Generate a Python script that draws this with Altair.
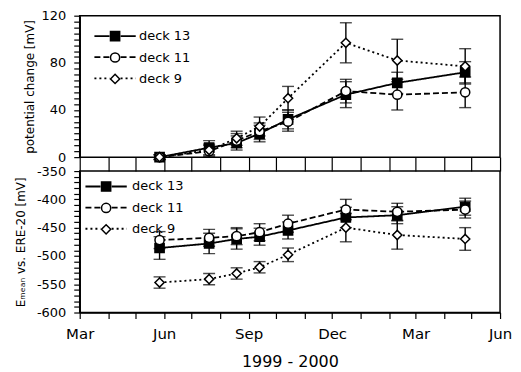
import altair as alt
import pandas as pd

# sampling dates
dates = ["1999-05-27T00:00", "1999-07-20T00:00", "1999-08-19T00:00", "1999-09-13T00:00",
         "1999-10-14T00:00", "1999-12-16T00:00", "2000-02-10T00:00", "2000-04-24T00:00"]
series_names = ["deck 13", "deck 11", "deck 9"]

# top panel: potential change [mV]
top_d13 = [0, 8, 12, 20, 32, 53, 63, 72]
top_d11 = [0, 5, 14, 22, 30, 56, 53, 55]
top_d9 = [0, 6, 16, 26, 50, 97, 82, 77]
top_e13 = [2, 6, 6, 7, 8, 11, 9, 9]
top_e11 = [2, 5, 6, 7, 8, 10, 13, 13]
top_e9 = [2, 5, 6, 8, 10, 17, 18, 15]

# bottom panel: E_mean vs. ERE-20 [mV]
bot_d13 = [-486, -478, -470, -466, -455, -432, -428, -413]
bot_d11 = [-472, -468, -465, -458, -443, -418, -422, -418]
bot_d9 = [-547, -541, -531, -520, -498, -450, -463, -470]
bot_e13 = [20, 18, 18, 15, 15, 18, 15, 15]
bot_e11 = [15, 15, 15, 15, 15, 18, 15, 15]
bot_e9 = [10, 10, 10, 10, 12, 25, 25, 20]


def make_df(vals, errs):
    rows = []
    for k, (name, v, e) in enumerate(zip(series_names, vals, errs)):
        for d, y, s in zip(dates, v, e):
            rows.append({"date": d, "series": name, "deck": name, "order": k,
                         "value": y, "lo": y - s, "hi": y + s})
    return pd.DataFrame(rows)


top_df = make_df([top_d13, top_d11, top_d9], [top_e13, top_e11, top_e9])
bot_df = make_df([bot_d13, bot_d11, bot_d9], [bot_e13, bot_e11, bot_e9])

months = [alt.DateTime(year=1999 + (2 + i) // 12, month=(2 + i) % 12 + 1, date=1) for i in range(16)]
xscale = alt.Scale(domain=[months[0], months[-1]])

top_xaxis = alt.Axis(values=months, labels=False, tickSize=14, domain=False, title=None,
                     grid=False, tickWidth=1.2)
bot_xaxis = alt.Axis(values=months, tickSize=6, title="1999 - 2000", grid=False,
                     labelExpr="(month(datum.value) % 3 == 2) ? timeFormat(datum.value, '%b') : ''",
                     labelOverlap=False, labelFlush=False, labelFontSize=15, labelPadding=8,
                     titleFontSize=16, titleFontWeight="normal", titlePadding=12, tickWidth=1.2)


def panel(df, ydomain, yvals, lab_expr, ytitle, tpad, xaxis, lx, ly, loff):
    yscale = alt.Scale(domain=ydomain, nice=False, zero=False)
    yaxis = alt.Axis(values=yvals, labelExpr=lab_expr, title=ytitle, titleFontSize=12,
                     titleFontWeight="normal", titlePadding=tpad, labelFontSize=13,
                     tickSize=6, labelPadding=8, grid=False, tickWidth=1.2)
    base = alt.Chart(df).encode(x=alt.X("date:T", scale=xscale, axis=xaxis))
    pleg = alt.Legend(orient="none", legendX=lx, legendY=ly, title=None, symbolSize=85,
                      symbolStrokeWidth=1.5, labelFontSize=13,
                      labelOffset=loff, rowPadding=4.5, padding=0)
    lleg = alt.Legend(orient="none", legendX=lx, legendY=ly, title=None,
                      symbolType="M-4.5,0H-1.2M1.2,0H4.5", symbolSize=85,
                      symbolStrokeWidth=1.8, symbolStrokeColor="black", labelFontSize=13,
                      labelExpr="''", labelOffset=loff, rowPadding=7.2, padding=0)
    lines = base.mark_line(color="black", strokeWidth=1.8).encode(
        y=alt.Y("value:Q", scale=yscale, axis=yaxis),
        strokeDash=alt.StrokeDash("series:N", sort=alt.EncodingSortField("order", op="min"),
                                  scale=alt.Scale(range=[[1, 0], [6, 3], [2, 3]]), legend=lleg),
    )
    rules = base.mark_rule(color="black", strokeWidth=1.4).encode(
        y=alt.Y("lo:Q", scale=yscale, axis=yaxis), y2="hi:Q")
    cap_lo = base.mark_tick(color="black", orient="horizontal", size=12, thickness=1.4).encode(
        y=alt.Y("lo:Q", scale=yscale, axis=yaxis))
    cap_hi = base.mark_tick(color="black", orient="horizontal", size=12, thickness=1.4).encode(
        y=alt.Y("hi:Q", scale=yscale, axis=yaxis))
    points = base.mark_point(size=85, strokeWidth=1.5, opacity=1).encode(
        y=alt.Y("value:Q", scale=yscale, axis=yaxis),
        shape=alt.Shape("deck:N", scale=alt.Scale(domain=series_names,
                        range=["square", "circle", "diamond"]), legend=pleg),
        fill=alt.Fill("deck:N", scale=alt.Scale(domain=series_names,
                      range=["black", "white", "white"]), legend=pleg),
        stroke=alt.Stroke("deck:N", scale=alt.Scale(domain=series_names,
                          range=["black", "black", "black"]), legend=pleg),
    )
    return alt.layer(lines, rules, cap_lo, cap_hi, points).properties(width=422, height=142)


top = panel(top_df, [0, 120], list(range(0, 121, 5)),
            "datum.value % 40 == 0 ? '' + datum.value : ''",
            "potential change [mV]", 5, top_xaxis, 29, 14, 17.5)
bottom = panel(bot_df, [-600, -350], list(range(-600, -349, 10)),
               "datum.value % 50 == 0 ? '' + datum.value : ''",
               "Eₘₑₐₙ vs. ERE-20 [mV]", 9, bot_xaxis, 20, 9, 19.5)

chart = alt.vconcat(top, bottom, spacing=14, bounds="flush").resolve_scale(
    x="independent", y="independent", strokeDash="independent",
    shape="independent", fill="independent", stroke="independent"
).resolve_legend(
    strokeDash="independent", shape="independent", fill="independent", stroke="independent"
).properties(
    padding={"left": 5, "top": 0, "right": 0, "bottom": 0}
).configure(font="DejaVu Sans").configure_view(
    stroke="black", strokeWidth=1.5
).configure_axis(
    domainColor="black", tickColor="black", labelColor="black", titleColor="black",
    domainWidth=1.5
)

chart.save("out.html", embed_options={"renderer": "svg", "actions": False})
